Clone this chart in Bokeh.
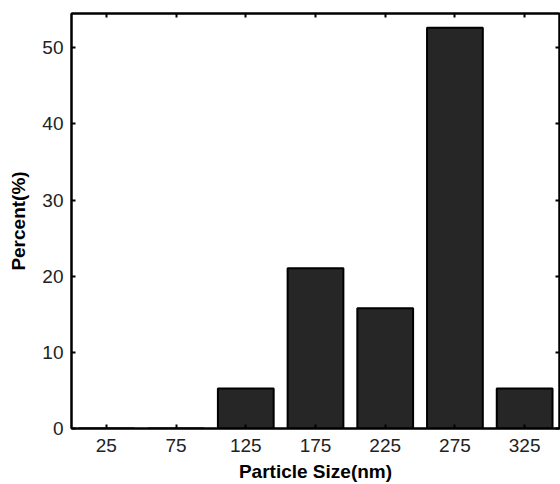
from bokeh.plotting import figure
from bokeh.models import Range1d, LinearAxis, FixedTicker
from bokeh.embed import file_html
from bokeh.resources import INLINE

sizes = [25, 75, 125, 175, 225, 275, 325]
percents = [0, 0, 5.26, 21.05, 15.79, 52.63, 5.26]
x_ticks = [25, 75, 125, 175, 225, 275, 325]
y_ticks = [0, 10, 20, 30, 40, 50]

p = figure(width=560, height=484, output_backend="svg", toolbar_location=None,
           x_range=Range1d(0, 350), y_range=Range1d(0, 54.5),
           min_border_left=71, min_border_right=1, min_border_top=13, min_border_bottom=56)

p.vbar(x=sizes, top=percents, width=40, fill_color="#262626", line_color="black", line_width=2)

p.xgrid.visible = False
p.ygrid.visible = False
p.outline_line_color = "black"
p.outline_line_width = 2
p.background_fill_color = "white"
p.border_fill_color = "white"

font = "Liberation Sans"

for ax, ticks in ((p.xaxis[0], x_ticks), (p.yaxis[0], y_ticks)):
    ax.ticker = FixedTicker(ticks=ticks)
    ax.axis_line_color = "black"
    ax.axis_line_width = 2
    ax.major_tick_in = 4
    ax.major_tick_out = 0
    ax.major_tick_line_width = 2
    ax.major_tick_line_color = "black"
    ax.minor_tick_line_color = None
    ax.major_label_text_font = font
    ax.major_label_text_font_size = "19px"
    ax.major_label_text_color = "#222222"
    ax.axis_label_text_font = font
    ax.axis_label_text_font_size = "19px"
    ax.axis_label_text_font_style = "bold"
    ax.axis_label_text_color = "black"

p.xaxis[0].axis_label = "Particle Size(nm)"
p.xaxis[0].major_label_standoff = 10
p.xaxis[0].axis_label_standoff = 6
p.yaxis[0].axis_label = "Percent(%)"
p.yaxis[0].major_label_standoff = 8
p.yaxis[0].axis_label_standoff = 10

top_ax = LinearAxis(ticker=FixedTicker(ticks=x_ticks))
right_ax = LinearAxis(ticker=FixedTicker(ticks=y_ticks))
for ax in (top_ax, right_ax):
    ax.axis_line_color = "black"
    ax.axis_line_width = 2
    ax.major_tick_in = 4
    ax.major_tick_out = 0
    ax.major_tick_line_width = 2
    ax.minor_tick_line_color = None
    ax.major_label_text_font_size = "1px"
    ax.major_label_text_color = None
    ax.major_label_standoff = 0
p.add_layout(top_ax, "above")
p.add_layout(right_ax, "right")

open("out.html", "w").write(file_html(p, INLINE))
